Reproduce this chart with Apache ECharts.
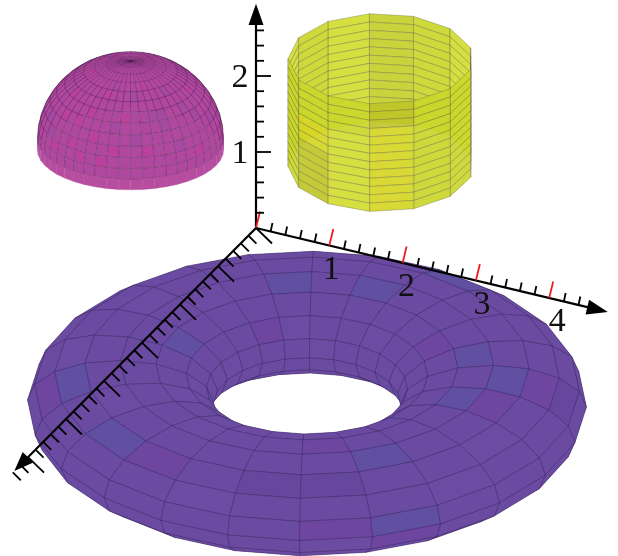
<!DOCTYPE html>
<html><head><meta charset="utf-8">
<style>html,body{margin:0;padding:0;background:#fff}#c{width:618px;height:556px}</style>
<script src="https://cdn.jsdelivr.net/npm/echarts@6/dist/echarts.min.js"></script>
</head><body><div id="c"></div>
<script>
// ---- axis values
const xMajorTicks=[0,1,2,3,4];
const xMinorTicks=[.2,.4,.6,.8,1.2,1.4,1.6,1.8,2.2,2.4,2.6,2.8,3.2,3.4,3.6,3.8,4.2,4.4];
const yMajorTicks=[0,1,2,3,4,5,6];
const yMinorTicks=[.2,.4,.6,.8,1.2,1.4,1.6,1.8,2.2,2.4,2.6,2.8,3.2,3.4,3.6,3.8,4.2,4.4,4.6,4.8,5.2,5.4,5.6,5.8,6.2,6.4];
const zMajorTicks=[1,2];
const zMinorTicks=[.2,.4,.6,.8,1.2,1.4,1.6,1.8,2.2,2.4,2.6];
const xTickLabels=['1','2','3','4'];
const zTickLabels=['1','2'];
// ---- surface shades, one row per facet column
const torusShades=[
 'p.d.p..........~','b..b...~.......p','.~....~.........','..~.....~.......',
 '...pb......~....','.dpb..~.........','....b...~.......','.....p.~........',
 '.~.......~......','..b...~.........','....b...........','..~....~........',
 '....b.~.........','......p.........','.~..~...........','...~...~........',
 '.....b..~.......','..~.............','.pb...~.........','...~.~..........',
 '..b....~........','..p.~...........','.~...~..........','..d.............'];
const domeShades=[
 '.p..........','...b....p...','...b..b.....','..b...p.....','.p..p.......','...........b',
 '..p.p.......','.p...p......','...p...p....','.p......b...','..p.b.......','.....p......',
 '...b...b....','..p.........','.....b..p...','....bb......','..b.........','.......b....',
 '.p...b......','....b.......','..........b.','...b..p.....','.p..........','............'];
const cylinderShades=[
 'ccccccccccccc','.............','lllllllllllll','lllllllllllll','.............','.............',
 'oooyyyyyyyyyy','....lllllllll','....yyyoooooo','.............','lllllllllllll','.............','lllllllllllll'];

// ---- layout of the drawing, in the page's own units
const ORIGIN=[256,228], UX=[73.3,17.5], UY=[-38,38.2], UZ=[0,-76];
const TORUS={cx:307,cy:403.5,R:186.5,a:93,b:46.5,s:.49,nu:24,nv:16,turn:-1.5};
const DOME={cx:130.5,cy:139,a:93,b:86,s:.43,skirt:12,nu:48,nv:12};
const CYL={cx:380.7,cy:58.7,rx:92.7,ry:45.3,h:107.7,n:13,rows:13,start:-7};
const RAD=Math.PI/180;
const axisPt=(x,y,z)=>[ORIGIN[0]+x*UX[0]+y*UY[0]+z*UZ[0],ORIGIN[1]+x*UX[1]+y*UY[1]+z*UZ[1]];

function torusPt(iu,iv){
  const u=(iu*15+TORUS.turn)*RAD,v=iv*22.5*RAD,t=TORUS,c=Math.sqrt(1-t.s*t.s);
  const rho=t.R+t.a*Math.cos(v),X=rho*Math.sin(u),Y=rho*Math.cos(u),Z=t.b*Math.sin(v);
  return {p:[t.cx+X,t.cy+Y*t.s-Z*c],d:Y*c+Z*t.s};
}
function domePt(iu,lat,drop){
  const d=DOME,c=Math.sqrt(1-d.s*d.s),th=(iu*7.5-90)*RAD,ph=lat*RAD;
  const r=d.a*Math.cos(ph),X=r*Math.sin(th),Y=r*Math.cos(th),Z=d.b*Math.sin(ph)-drop;
  return {p:[d.cx+X,d.cy+Y*d.s-Z*c],d:Y*c+Z*d.s};
}
function cylPt(k,row){
  const t=(CYL.start+k*360/CYL.n)*RAD;
  return [CYL.cx+CYL.rx*Math.sin(t),CYL.cy-CYL.ry*Math.cos(t)+row*CYL.h/CYL.rows];
}
// ---- cells
const torusCells=[];
for(let i=0;i<TORUS.nu;i++)for(let j=0;j<TORUS.nv;j++){
  const q=[torusPt(i,j),torusPt(i+1,j),torusPt(i+1,j+1),torusPt(i,j+1)];
  torusCells.push({value:[i,j],depth:q.reduce((s,o)=>s+o.d,0)/4});
}
torusCells.sort((a,b)=>a.depth-b.depth);
const domeCells=[];
for(let i=0;i<DOME.nu;i++){for(let j=-1;j<DOME.nv;j++){
  domeCells.push({value:[i,j]});
}}
domeCells.forEach(o=>{const [i,j]=o.value;
  const a=j<0?domePt(i+.5,0,0):domePt(i+.5,(j+.5)*7.5,0);o.depth=a.d;});
domeCells.sort((a,b)=>a.depth-b.depth);
const cylCells=[];
for(let k=0;k<CYL.n;k++)for(let r=0;r<CYL.rows;r++){
  const t=(CYL.start+(k+.5)*360/CYL.n)*RAD;
  cylCells.push({value:[k,r],depth:-Math.cos(t)});
}
cylCells.sort((a,b)=>a.depth-b.depth);

const TORUS_FILL={'.':'#694ba0','~':'#6c4ca1','b':'#604fa1','p':'#6e469f','d':'#65479d'};
const DOME_FILL={'.':'#b0489f','b':'#a54aa0','p':'#bb429c'};
const CYL_FILL={'.':'#cad72a','c':'#c5cf2b','l':'#d1dc30','o':'#bfc527','y':'#d6d625'};

const poly=(api,pts,style)=>({type:'polygon',shape:{points:pts.map(p=>api.coord(p))},style});
function torusItem(par,api){
  const i=api.value(0),j=api.value(1);
  const pts=[torusPt(i,j),torusPt(i+1,j),torusPt(i+1,j+1),torusPt(i,j+1)].map(o=>o.p);
  return poly(api,pts,{fill:TORUS_FILL[torusShades[i][j]],stroke:'rgba(40,25,70,.55)',lineWidth:.5,opacity:.95});
}
function domeItem(par,api){
  const i=api.value(0),j=api.value(1);
  if(j<0){
    const pts=[domePt(i,0,0),domePt(i+1,0,0),domePt(i+1,0,DOME.skirt),domePt(i,0,DOME.skirt)].map(o=>o.p);
    return {type:'group',children:[
      poly(api,pts,{fill:'#b64d9f',stroke:'#b64d9f',lineWidth:.4}),
      i%2===0?{type:'line',shape:{x1:api.coord(pts[0])[0],y1:api.coord(pts[0])[1],x2:api.coord(pts[3])[0],y2:api.coord(pts[3])[1]},style:{stroke:'rgba(185,150,185,.45)',lineWidth:.5}}:{type:'group',children:[]}
    ]};
  }
  const lo=j*7.5,hi=(j+1)*7.5;
  const pts=[domePt(i,lo,0),domePt(i+1,lo,0),domePt(i+1,hi,0),domePt(i,hi,0)].map(o=>o.p);
  const front=i<24?domeShades[i][j]:'.';
  return poly(api,pts,{fill:DOME_FILL[front],stroke:'rgba(55,25,60,.5)',lineWidth:j>=8?.3:.5});
}
function cylItem(par,api){
  const k=api.value(0),r=api.value(1);
  const pts=[cylPt(k,r),cylPt(k+1,r),cylPt(k+1,r+1),cylPt(k,r+1)];
  return poly(api,pts,{fill:CYL_FILL[cylinderShades[k][r]],stroke:'rgba(95,95,70,.6)',lineWidth:.6,opacity:.92});
}
// ---- axis furniture, built from the tick arrays
const axisMarks=[];
const seg=(a,b,color,w)=>axisMarks.push({value:[0,0],kind:'line',a,b,color,w});
seg(axisPt(0,0,0),axisPt(4.65,0,0),'#000',2.2);
seg(axisPt(0,0,0),axisPt(0,6.1,0),'#000',2.2);
seg(axisPt(0,0,0),axisPt(0,0,2.75),'#000',2.2);
const add=(p,d)=>[p[0]+d[0],p[1]+d[1]];
xMajorTicks.forEach(v=>{const p=axisPt(v,0,0);seg(p,add(p,[4,-16.5]),'#ee1c25',1.8);});
xMinorTicks.forEach(v=>{const p=axisPt(v,0,0);seg(p,add(p,[1.8,-8.5]),'#000',1.8);});
yMajorTicks.forEach(v=>{const p=axisPt(0,v,0);seg(p,add(p,[16,15.5]),'#000',1.8);});
yMinorTicks.forEach(v=>{const p=axisPt(0,v,0);seg(p,add(p,[8,8]),'#000',1.8);});
zMajorTicks.forEach(v=>{const p=axisPt(0,0,v);seg(p,add(p,[15,0]),'#000',1.8);});
zMinorTicks.forEach(v=>{const p=axisPt(0,0,v);seg(p,add(p,[8,0]),'#000',1.8);});
function arrow(tip,base,h){
  const dx=tip[0]-base[0],dy=tip[1]-base[1],l=Math.hypot(dx,dy),nx=-dy/l*h,ny=dx/l*h;
  axisMarks.push({value:[0,0],kind:'poly',pts:[tip,[base[0]+nx,base[1]+ny],[base[0]-nx,base[1]-ny]]});
}
arrow(axisPt(4.8,0,0),axisPt(4.52,0,0),7.5);
arrow(axisPt(0,6.36,0),axisPt(0,6.0,0),7.5);
arrow(axisPt(0,0,2.95),axisPt(0,0,2.67),7.5);
xTickLabels.forEach((t,i)=>{const v=xMajorTicks[i+1],p=axisPt(v,0,0);
  axisMarks.push({value:[0,0],kind:'text',t,p:add(p,[v*2,24.5])});});
zTickLabels.forEach((t,i)=>{const p=axisPt(0,0,zMajorTicks[i]);
  axisMarks.push({value:[0,0],kind:'text',t,p:add(p,[-16,2])});});
function markItem(par,api){
  const m=axisMarks[par.dataIndex];
  if(m.kind==='line'){const a=api.coord(m.a),b=api.coord(m.b);
    return {type:'line',shape:{x1:a[0],y1:a[1],x2:b[0],y2:b[1]},style:{stroke:m.color,lineWidth:m.w}};}
  if(m.kind==='poly')return poly(api,m.pts,{fill:'#000'});
  const p=api.coord(m.p);
  return {type:'text',style:{text:m.t,x:p[0],y:p[1],align:'center',verticalAlign:'middle',fill:'#111',
    font:'34px "Liberation Serif"'}};
}
const chart=echarts.init(document.getElementById('c'),null,{renderer:'canvas'});
const custom=(data,renderItem)=>({type:'custom',coordinateSystem:'cartesian2d',data,renderItem,clip:false,silent:true,animation:false});
chart.setOption({
  animation:false,backgroundColor:'#fff',
  grid:{left:0,right:0,top:0,bottom:0},
  xAxis:{type:'value',min:0,max:618,show:false},
  yAxis:{type:'value',min:0,max:556,inverse:true,show:false},
  series:[custom(domeCells,domeItem),custom(cylCells,cylItem),custom(torusCells,torusItem),custom(axisMarks,markItem)]
});
</script></body></html>
